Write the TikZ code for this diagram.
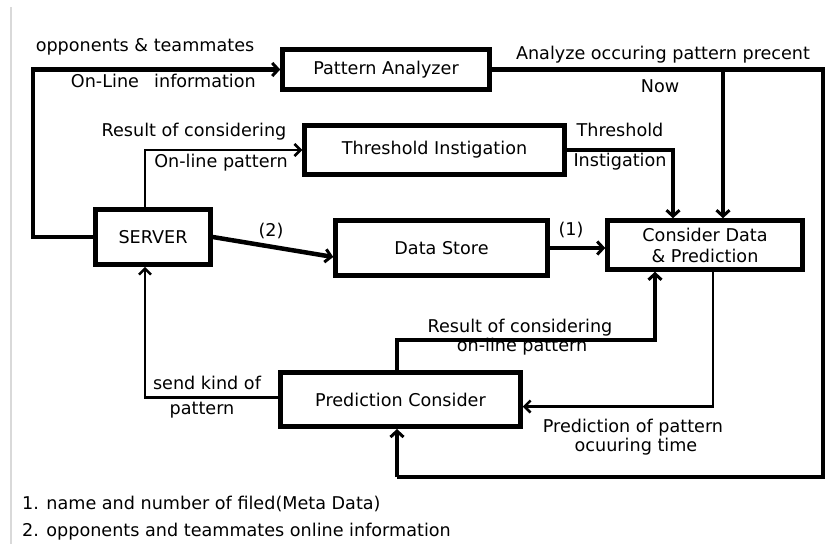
\documentclass[tikz,border=0pt]{standalone}
\usepackage{fontspec}
\setmainfont{DejaVu Sans}
\usetikzlibrary{arrows.meta,calc}
\begin{document}
\begin{tikzpicture}[x=1pt,y=-1pt,
  box/.style={draw,line width=4.5pt,inner sep=0pt,align=center,font=\fontsize{17.6}{21}\selectfont},
  lbl/.style={inner sep=0pt,font=\fontsize{17.6}{20}\selectfont,align=center},
  thk/.style={line width=4.5pt,-{Straight Barb[length=6pt,width=13pt,line width=3pt]}},
  thkn/.style={line width=4.5pt},
  thn/.style={line width=2.5pt,-{Straight Barb[length=6pt,width=12pt,line width=2.5pt]}}]
\useasboundingbox (0,0) rectangle (827,544);
\fill[white] (0,0) rectangle (827,544);
\draw[gray!30,line width=1.2pt] (11,7) -- (11,544);

\node[box,minimum width=207pt,minimum height=40pt] (PA) at (386,69.5) {Pattern Analyzer};
\node[box,minimum width=260pt,minimum height=49pt] (TI) at (434.5,150) {Threshold Instigation};
\node[box,minimum width=115pt,minimum height=55pt] (SV) at (153,237) {SERVER};
\node[box,minimum width=212pt,minimum height=55pt] (DS) at (441.5,248) {Data Store};
\node[box,minimum width=195pt,minimum height=49pt] (CD) at (705,245) {Consider Data\\\& Prediction};
\node[box,minimum width=240pt,minimum height=54pt] (PC) at (400.5,399.5) {Prediction Consider};

% server -> pattern analyzer
\draw[thk] (SV.west) -- (33,237) |- (PA.west);
\node[lbl] (l1) at (145,47) {opponents \& teammates};
\node[lbl] (l2) at (105,81) {On-Line};
\node[lbl] (l3) at (205,81) {information};

% server -> threshold
\draw[thn] ([xshift=-8pt]SV.north) |- (TI.west);
\node[lbl] (l4) at (194,132) {Result of considering};
\node[lbl] (l5) at (221,163) {On-line pattern};

% server -> data store
\draw[thk] ([yshift=0pt]SV.east) -- ([yshift=-9pt]DS.west);
\node[lbl] (l6) at (271,231) {(2)};

% data store -> consider
\draw[thk] (DS.east) -- (DS.east -| CD.west);
\node[lbl] (l7) at (571,230) {(1)};

% pattern analyzer -> consider, prediction consider
\coordinate (b1) at (723,69.5);
\draw[thkn] (PA.east) -- (823,69.5) -- (823,477) -- (397,477);
\draw[thk] (397,477) -- (397,429);
\draw[thk] (b1) -- (b1 |- CD.north);
\node[lbl] (l8) at (663,55) {Analyze occuring pattern precent};
\node[lbl] (l9) at (660,86) {Now};

% threshold -> consider
\draw[thk] (TI.east) -| ([xshift=-32pt]CD.north);
\node[lbl] (l10) at (620,130) {Threshold};
\node[lbl] (l11) at (620,162) {Instigation};

% prediction consider -> consider
\coordinate (r1) at (397,340);
\draw[thk] (PC.north -| r1) -- (r1) -| ([xshift=-50pt]CD.south);
\node[lbl] (l12) at (520,328) {Result of considering};
\node[lbl] (l13) at (522,347) {on-line pattern};

% consider -> prediction consider
\draw[thn] ([xshift=8pt]CD.south) |- ([yshift=-7pt]PC.east);
\node[lbl] (l14) at (633,428) {Prediction of pattern};
\node[lbl] (l15) at (636,447) {ocuuring time};

% prediction consider -> server
\draw[thn] ([yshift=2pt]PC.west) -| ([xshift=-8pt]SV.south);
\node[lbl] (l16) at (207,383) {send kind of};
\node[lbl] (l17) at (202,410) {pattern};

% footnotes
\node[lbl,anchor=west] (f1) at (22,504) {1. name and number of filed(Meta Data)};
\node[lbl,anchor=west] (f2) at (22,532) {2. opponents and teammates online information};
\end{tikzpicture}
\end{document}
